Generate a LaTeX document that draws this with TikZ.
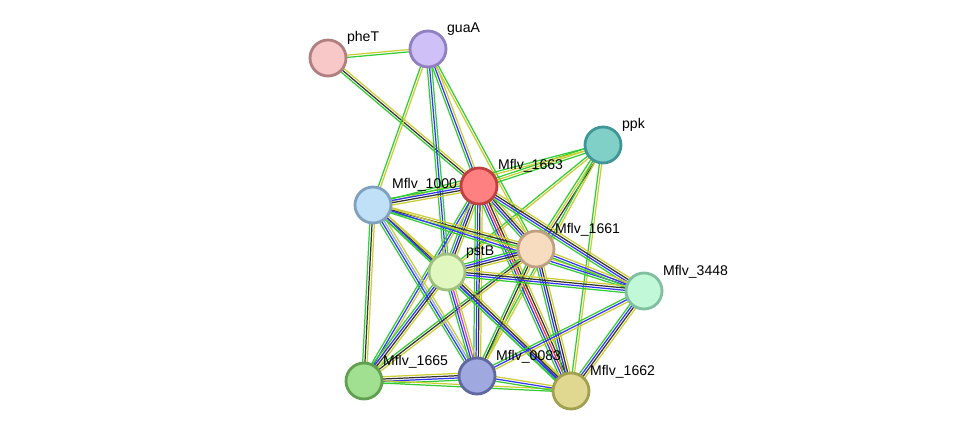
\documentclass[tikz,border=0pt]{standalone}
\usepackage{fontspec}
\setmainfont{Liberation Sans}
\usetikzlibrary{calc}
\definecolor{eg}{HTML}{33CC33}
\definecolor{eb}{HTML}{3333FF}
\definecolor{ey}{HTML}{CCCC33}
\definecolor{ek}{HTML}{333333}
\definecolor{er}{HTML}{FF3333}
\definecolor{ep}{HTML}{CC44CC}
\definecolor{el}{HTML}{88AADD}
\tikzset{
 prot/.style={circle,minimum size=7.2mm,inner sep=0pt,line width=1.6pt},
 lab/.style={font=\fontsize{8}{10}\selectfont,anchor=south west,inner sep=1pt}
}
\newcommand{\E}[4]{% a b n colors
 \foreach \c [count=\i] in {#4}{
  \pgfmathsetmacro{\off}{(\i-(#3+1)/2)*1.3}
  \draw[\c,line width=0.7pt] ($(#1)!\off pt!90:(#2)$) -- ($(#2)!\off pt!-90:(#1)$);
 }}
\begin{document}
\begin{tikzpicture}[x=0.2mm,y=-0.2mm]
\useasboundingbox[fill=white] (0,0) rectangle (976,437);
\coordinate (pheT) at (328,58);
\coordinate (guaA) at (428,49);
\coordinate (ppk) at (603,145);
\coordinate (m1663) at (479,186);
\coordinate (m1000) at (373,205);
\coordinate (m1661) at (536,249);
\coordinate (pstB) at (447,272);
\coordinate (m3448) at (644,291);
\coordinate (m1665) at (364,381);
\coordinate (m0083) at (477,376);
\coordinate (m1662) at (571,391);
\E{pheT}{guaA}{2}{eg,ey}
\E{pheT}{m1663}{3}{eg,ek,ey}
\E{guaA}{m1663}{3}{eg,eb,ey}
\E{guaA}{m1000}{2}{eg,ey}
\E{guaA}{pstB}{3}{eg,eb,eg}
\E{guaA}{m1661}{2}{ey,eg}
\E{ppk}{m1663}{3}{eg,ey,eg}
\E{ppk}{m1000}{2}{eg,ey}
\E{ppk}{pstB}{2}{eg,ey}
\E{ppk}{m1661}{3}{eg,ey,ek}
\E{ppk}{m0083}{2}{eg,ey}
\E{ppk}{m1662}{2}{eg,ey}
\E{m1663}{m1000}{4}{eg,eb,ek,ey}
\E{m1663}{m1661}{4}{eg,eb,ek,ey}
\E{m1663}{pstB}{4}{eg,eb,ek,ey}
\E{m1663}{m3448}{4}{eg,eb,ek,ey}
\E{m1663}{m1665}{3}{eg,eb,ey}
\E{m1663}{m0083}{4}{eg,eb,ek,ey}
\E{m1663}{m1662}{5}{eg,eb,er,ek,ey}
\E{m1000}{m1661}{3}{eg,ek,ey}
\E{m1000}{pstB}{3}{eg,ek,ey}
\E{m1000}{m3448}{3}{eg,eb,ey}
\E{m1000}{m1665}{3}{eg,ek,ey}
\E{m1000}{m0083}{4}{eg,eb,el,ey}
\E{m1000}{m1662}{3}{eg,eb,ey}
\E{m1661}{pstB}{4}{eg,eb,ek,ey}
\E{m1661}{m3448}{3}{eg,eb,ey}
\E{m1661}{m1665}{3}{eg,ek,ey}
\E{m1661}{m0083}{3}{eg,ek,ey}
\E{m1661}{m1662}{4}{eg,eb,ek,ey}
\E{pstB}{m3448}{4}{eg,eb,ek,ey}
\E{pstB}{m1665}{4}{eg,eb,ek,ey}
\E{pstB}{m0083}{4}{eg,eb,ep,ey}
\E{pstB}{m1662}{4}{eg,eb,ek,ey}
\E{m3448}{m0083}{3}{eg,eb,ey}
\E{m3448}{m1662}{4}{eg,eb,ek,ey}
\E{m1665}{m0083}{4}{eg,eb,ek,ey}
\E{m1665}{m1662}{2}{eg,ey}
\E{m0083}{m1662}{3}{eg,eb,ey}
\node[prot,fill={rgb,255:red,248;green,200;blue,200},draw={rgb,255:red,176;green,128;blue,128}] (npheT) at (pheT) {};
\node[prot,fill={rgb,255:red,208;green,192;blue,248},draw={rgb,255:red,144;green,128;blue,192}] (nguaA) at (guaA) {};
\node[prot,fill={rgb,255:red,128;green,208;blue,200},draw={rgb,255:red,64;green,150;blue,150}] (nppk) at (ppk) {};
\node[prot,fill={rgb,255:red,255;green,128;blue,128},draw={rgb,255:red,192;green,64;blue,64}] (n1663) at (m1663) {};
\node[prot,fill={rgb,255:red,192;green,224;blue,248},draw={rgb,255:red,128;green,160;blue,192}] (n1000) at (m1000) {};
\node[prot,fill={rgb,255:red,248;green,220;blue,192},draw={rgb,255:red,192;green,160;blue,128}] (n1661) at (m1661) {};
\node[prot,fill={rgb,255:red,224;green,248;blue,192},draw={rgb,255:red,160;green,192;blue,128}] (npstB) at (pstB) {};
\node[prot,fill={rgb,255:red,192;green,248;blue,216},draw={rgb,255:red,128;green,192;blue,160}] (n3448) at (m3448) {};
\node[prot,fill={rgb,255:red,160;green,224;blue,144},draw={rgb,255:red,96;green,160;blue,80}] (n1665) at (m1665) {};
\node[prot,fill={rgb,255:red,160;green,168;blue,224},draw={rgb,255:red,96;green,104;blue,160}] (n0083) at (m0083) {};
\node[prot,fill={rgb,255:red,224;green,216;blue,144},draw={rgb,255:red,160;green,160;blue,80}] (n1662) at (m1662) {};
\node[lab] at (345,47) {pheT};
\node[lab] at (445,38) {guaA};
\node[lab] at (620,134) {ppk};
\node[lab] at (496,174) {Mflv\_1663};
\node[lab] at (390,193) {Mflv\_1000};
\node[lab] at (553,238) {Mflv\_1661};
\node[lab] at (464,261) {pstB};
\node[lab] at (661,280) {Mflv\_3448};
\node[lab] at (381,370) {Mflv\_1665};
\node[lab] at (494,365) {Mflv\_0083};
\node[lab] at (588,380) {Mflv\_1662};
\end{tikzpicture}
\end{document}
